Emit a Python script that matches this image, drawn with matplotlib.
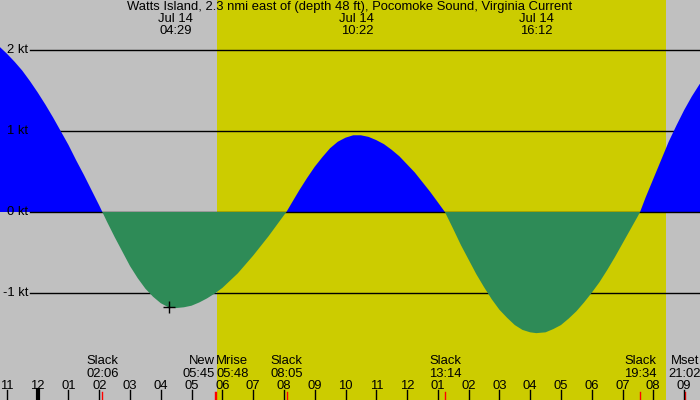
import matplotlib
matplotlib.use('Agg')
import matplotlib.pyplot as plt
import matplotlib.transforms as mtransforms
import numpy as np

plt.rcParams['font.family'] = ['Liberation Sans', 'DejaVu Sans']

# current speed (kt), hours since midnight Jul 14
hours = [-1.5, -1.25, -1.0, -0.75, -0.5, -0.25, 0.0, 0.25, 0.5, 0.75, 1.0, 1.25, 1.5,
         1.75, 2.0, 2.1, 2.25, 2.5, 2.75, 3.0, 3.25, 3.5, 3.75, 4.0, 4.25, 4.48,
         4.75, 5.0, 5.25, 5.5, 5.75, 6.0, 6.25, 6.5, 6.75, 7.0, 7.25, 7.5, 7.75, 8.0,
         8.08, 8.25, 8.5, 8.75, 9.0, 9.25, 9.5, 9.75, 10.0, 10.25, 10.37, 10.5,
         10.75, 11.0, 11.25, 11.5, 11.75, 12.0, 12.25, 12.5, 12.75, 13.0, 13.23,
         13.5, 13.75, 14.0, 14.25, 14.5, 14.75, 15.0, 15.25, 15.5, 15.75, 16.0, 16.2,
         16.5, 16.75, 17.0, 17.25, 17.5, 17.75, 18.0, 18.25, 18.5, 18.75, 19.0,
         19.25, 19.5, 19.57, 19.75, 20.0, 20.25, 20.5, 20.75, 21.0, 21.25, 21.5,
         21.75, 22.0]
speed = [2.12, 2.05, 1.96, 1.86, 1.75, 1.62, 1.48, 1.33, 1.17, 1.00, 0.83, 0.64, 0.46,
         0.27, 0.08, 0.0, -0.12, -0.31, -0.49, -0.67, -0.82, -0.95, -1.05, -1.13,
         -1.18, -1.19, -1.18, -1.16, -1.12, -1.07, -1.01, -0.94, -0.85, -0.76, -0.65,
         -0.54, -0.42, -0.30, -0.17, -0.04, 0.0, 0.11, 0.27, 0.42, 0.56, 0.68, 0.79,
         0.87, 0.92, 0.95, 0.95, 0.95, 0.93, 0.89, 0.84, 0.77, 0.69, 0.59, 0.49,
         0.37, 0.25, 0.12, 0.0, -0.21, -0.41, -0.59, -0.77, -0.93, -1.08, -1.21,
         -1.31, -1.40, -1.46, -1.49, -1.50, -1.49, -1.45, -1.40, -1.32, -1.23, -1.12,
         -1.00, -0.87, -0.72, -0.56, -0.39, -0.22, -0.05, 0.0, 0.18, 0.41, 0.64,
         0.87, 1.07, 1.26, 1.43, 1.58, 1.70, 1.79]

title = 'Watts Island, 2.3 nmi east of (depth 48 ft), Pocomoke Sound, Virginia Current'
sunrise, sunset = 5.84, 20.41

# max current times shown at the top
peak_hours = [4 + 29/60, 10 + 22/60, 16 + 12/60]
peak_labels = ['04:29', '10:22', '16:12']

# events along the bottom
event_hours = [2 + 6/60, 5 + 45/60, 5 + 48/60, 8 + 5/60, 13 + 14/60, 19 + 34/60, 21 + 2/60]
event_names = ['Slack', 'New', 'Mrise', 'Slack', 'Slack', 'Slack', 'Mset']
event_times = ['02:06', '05:45', '05:48', '08:05', '13:14', '19:34', '21:02']
event_align = ['center', 'right', 'left', 'center', 'center', 'center', 'center']

tick_hours = list(range(-1, 22))
tick_labels = ['11', '12', '01', '02', '03', '04', '05', '06', '07', '08', '09', '10',
               '11', '12', '01', '02', '03', '04', '05', '06', '07', '08', '09']

kt_levels = [2, 1, 0, -1]
kt_labels = ['2 kt', '1 kt', '0 kt', '-1 kt']

now_hour, now_speed = 4.27, -1.18

fs = 9.4
fig = plt.figure(figsize=(7, 4), dpi=100, facecolor='#c0c0c0')
ax = fig.add_axes([0, 0, 1, 1])
ax.set_facecolor('#c0c0c0')
ax.set_xlim(-1.225, 21.517)
ax.set_ylim(-2.328, 2.625)
for sp in ax.spines.values():
    sp.set_visible(False)
ax.set_xticks([])
ax.set_yticks([])

# daylight band
ax.axvspan(sunrise, sunset, color='#cccc00', lw=0, zorder=0)

h = np.array(hours)
s = np.array(speed)
ax.fill_between(h, 0, s, where=s >= 0, interpolate=True, color='#0000ff', lw=0, zorder=2)
ax.fill_between(h, 0, s, where=s <= 0, interpolate=True, color='#2e8b57', lw=0, zorder=4)

for lev, lab in zip(kt_levels, kt_labels):
    ax.plot([-0.25, 21.6], [lev, lev], color='black', lw=1, zorder=1 if lev != 0 else 3)
    ax.text(-0.315, lev, lab, ha='right', va='center', fontsize=fs, zorder=6)

ax.plot(now_hour, now_speed, marker='+', color='black', ms=9, mew=1, zorder=6)

trans = mtransforms.blended_transform_factory(ax.transData, ax.transAxes)
ax.text(0.5, 0.9825, title, transform=ax.transAxes, ha='center', va='center', fontsize=fs)
for ph, pl in zip(peak_hours, peak_labels):
    ax.text(ph, 0.9525, 'Jul 14', transform=trans, ha='center', va='center', fontsize=fs)
    ax.text(ph, 0.9225, pl, transform=trans, ha='center', va='center', fontsize=fs)

for eh, en, et, ea in zip(event_hours, event_names, event_times, event_align):
    ax.text(eh, 0.0985, en, transform=trans, ha=ea, va='center', fontsize=fs)
    ax.text(eh, 0.066, et, transform=trans, ha=ea, va='center', fontsize=fs)
    ax.axvline(eh, ymin=0, ymax=0.02, color='red', lw=1, zorder=7)

for th, tl in zip(tick_hours, tick_labels):
    ax.text(th, 0.036, tl, transform=trans, ha='center', va='center', fontsize=fs)
    ax.axvline(th, ymin=0, ymax=0.025, color='black', lw=3 if th == 0 else 1, zorder=8)

fig.savefig('out.png', dpi=100, facecolor='#c0c0c0')
